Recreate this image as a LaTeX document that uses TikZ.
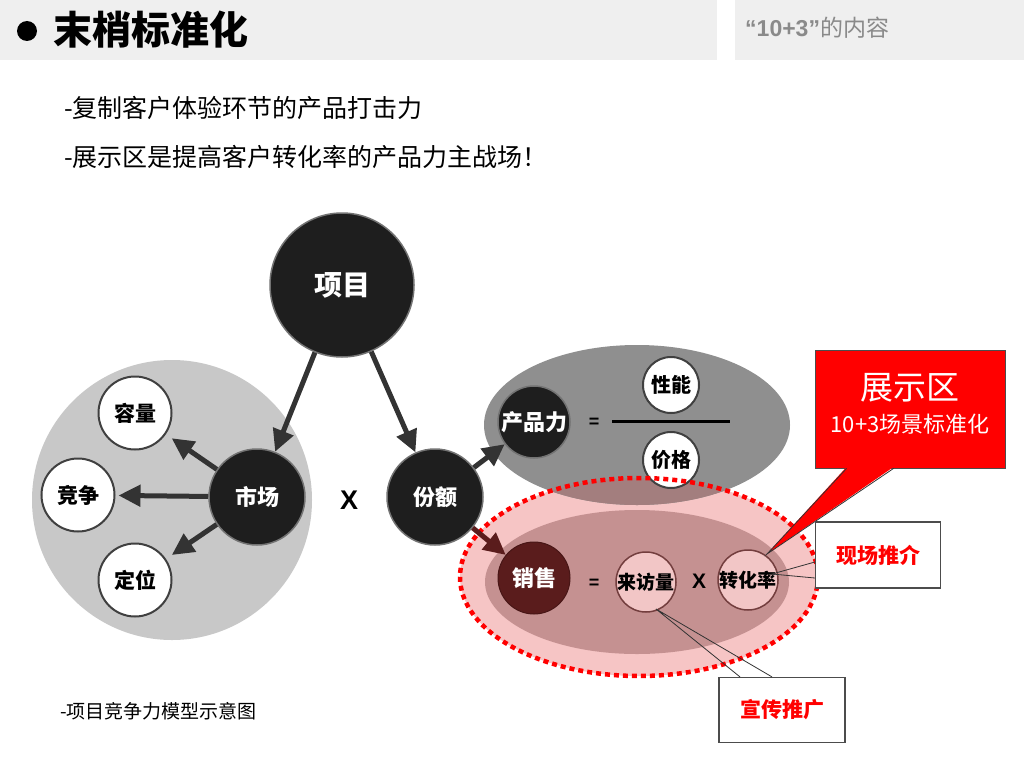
\documentclass[tikz,border=0pt]{standalone}
\usepackage{fontspec}
\setmainfont{Noto Sans CJK SC}
\newfontfamily\latinfont{Liberation Sans}
\usepackage{xcolor}
\usetikzlibrary{arrows.meta,positioning,calc}
\definecolor{barbg}{HTML}{EFEFEF}
\definecolor{hintgray}{HTML}{8A8A8A}
\definecolor{ink}{HTML}{1E1E1E}
\definecolor{ringgray}{HTML}{C8C8C8}
\definecolor{midgray}{HTML}{8F8F8F}
\definecolor{mauve}{HTML}{A37E7E}
\definecolor{palepink}{HTML}{F6C5C5}
\definecolor{duskpink}{HTML}{C59191}
\definecolor{wine}{HTML}{5A1C1C}
\definecolor{blush}{HTML}{F2C6C6}
\definecolor{arrowgray}{HTML}{333333}
\definecolor{alertred}{HTML}{FF0000}
\tikzset{
  txt/.style={inner sep=0pt,anchor=west},
  darkball/.style={circle,fill=ink,draw=black!55,line width=1.5pt,text=white,
                   inner sep=0pt,minimum size=96pt,
                   font=\fontsize{22}{24}\selectfont\bfseries},
  whiteball/.style={circle,fill=white,draw=black!75,line width=2pt,
                    inner sep=0pt,minimum size=73pt,
                    font=\fontsize{21}{24}\selectfont\bfseries},
  wineball/.style={circle,fill=wine,draw=wine!80!black,line width=1pt,text=white,
                   inner sep=0pt,minimum size=72pt,
                   font=\fontsize{22}{24}\selectfont\bfseries},
  blushball/.style={circle,fill=blush,draw=wine!85,line width=1.5pt,
                    inner sep=0pt,minimum size=60pt,
                    font=\fontsize{19}{21}\selectfont\bfseries},
  signtxt/.style={inner sep=0pt,font=\latinfont\fontsize{18}{20}\selectfont\bfseries},
  fatarr/.style={-{Triangle[length=22pt,width=21pt]},line width=5pt,
                 draw=arrowgray},
  winearr/.style={-{Triangle[length=22pt,width=21pt]},line width=5pt,
                  draw=wine},
  reddots/.style={draw=alertred,line width=4.5pt,dash pattern=on 5pt off 4pt},
  notebox/.style={draw=black!70,fill=white,line width=1.2pt,
                  minimum width=125pt,minimum height=66pt,text=alertred,
                  font=\fontsize{21}{24}\selectfont\bfseries},
  thinlead/.style={draw=black!80,line width=0.8pt}
}
\begin{document}
\begin{tikzpicture}[x=1pt,y=-1pt]
  \path[use as bounding box,fill=white] (0,0) rectangle (1024,768);
  % header
  \fill[barbg] (0,0) rectangle (717,60);
  \fill[barbg] (735,0) rectangle (1024,60);
  \fill[black] (27,31) circle (10);
  \node[txt,font=\fontsize{39}{44}\selectfont\bfseries] (title) at (53,30) {末梢标准化};
  \node[txt,text=hintgray,font=\fontsize{23}{26}\selectfont] (subtitle) at (745,28)
    {{\latinfont\bfseries “10+3”}的内容};
  \node[txt,font=\fontsize{25}{28}\selectfont] (lineone) at (64,108)
    {-复制客户体验环节的产品打击力};
  \node[txt,font=\fontsize{25}{28}\selectfont] (linetwo) at (64,157)
    {-展示区是提高客户转化率的产品力主战场！};
  \node[txt,font=\fontsize{19}{22}\selectfont] (caption) at (60,711)
    {-项目竞争力模型示意图};

  % market side
  \fill[ringgray] (172,500) circle (140);
  \node[darkball,minimum size=144pt,font=\fontsize{28}{30}\selectfont\bfseries]
    (xiangmu) at (342,285) {项目};
  \node[darkball] (shichang) at (257,497) {市场};
  \node[whiteball] (rongliang) at (135,413) {容量};
  \node[whiteball] (jingzheng) at (78,495) {竞争};
  \node[whiteball] (dingwei) at (135,580) {定位};
  \node[darkball] (fene) at (435,497) {份额};
  \node[signtxt,font=\latinfont\fontsize{27}{28}\selectfont\bfseries] (timesa)
    at (349,500) {X};
  \draw[fatarr] (xiangmu) -- (shichang);
  \draw[fatarr] (xiangmu) -- (fene);
  \draw[fatarr,shorten >=7pt] (shichang) -- (rongliang);
  \draw[fatarr,shorten >=3pt] (shichang) -- (jingzheng);
  \draw[fatarr,shorten >=7pt] (shichang) -- (dingwei);

  % product and sales side
  \fill[palepink] (639,577) ellipse [x radius=179,y radius=99];
  \fill[midgray] (637,425) ellipse [x radius=153,y radius=80];
  \begin{scope}
    \clip (639,577) ellipse [x radius=179,y radius=99];
    \fill[mauve] (637,425) ellipse [x radius=153,y radius=80];
  \end{scope}
  \fill[duskpink] (637,582) ellipse [x radius=152,y radius=72];
  \node[darkball,minimum size=72pt] (chanpin) at (534,422) {产品力};
  \node[signtxt] (eqa) at (594,423) {=};
  \draw[line width=3pt] (612,421) -- (730,421);
  \node[whiteball,minimum size=56pt,font=\fontsize{20}{22}\selectfont\bfseries]
    (xingneng) at (671,385) {性能};
  \node[whiteball,minimum size=56pt,font=\fontsize{20}{22}\selectfont\bfseries]
    (jiage) at (671,460) {价格};
  \node[wineball] (xiaoshou) at (534,578) {销售};
  \node[signtxt] (eqb) at (594,584) {=};
  \node[blushball] (laifang) at (646,582) {来访量};
  \node[signtxt,font=\latinfont\fontsize{21}{22}\selectfont\bfseries] (timesb)
    at (699,581) {X};
  \node[blushball] (zhuanhua) at (748,580) {转化率};
  \draw[reddots] (639,577) ellipse [x radius=179,y radius=99];
  \draw[fatarr] (fene) -- (chanpin);
  \draw[winearr] (fene) -- (xiaoshou);

  % callouts
  \node[draw=black!70,fill=alertred,line width=0.8pt,minimum width=190pt,
        minimum height=118pt] (zhanshi) at (910,409) {};
  \coordinate (tipred) at ($(zhanshi.center)+(-143,145)$);
  \fill[alertred] ($(zhanshi.south west)+(32,-1.5)$) -- (tipred)
    -- ($(zhanshi.south west)+(79,-1.5)$) -- cycle;
  \draw[thinlead] ($(zhanshi.south west)+(32,0)$) -- (tipred)
    -- ($(zhanshi.south west)+(79,0)$);
  \node[text=white,inner sep=0pt,font=\fontsize{33}{36}\selectfont]
    (zhanshitop) at (910,388) {展示区};
  \node[text=white,inner sep=0pt,font=\fontsize{22}{24}\selectfont]
    (zhanshisub) at (910,424) {10+3场景标准化};

  \node[notebox] (xianchang) at (878,555) {现场推介};
  \coordinate (tipsite) at ($(zhuanhua.center)+(24,-6)$);
  \draw[thinlead] ($(xianchang.west)+(0,7)$) -- (tipsite)
    -- ($(xianchang.west)+(0,23)$);
  \node[notebox,minimum width=126pt,minimum height=65pt] (xuanchuan) at (782,710)
    {宣传推广};
  \coordinate (tippromo) at ($(laifang.center)+(10,27)$);
  \draw[thinlead] ($(xuanchuan.north)+(-42,0)$) -- (tippromo)
    -- ($(xuanchuan.north)+(-10,0)$);
\end{tikzpicture}
\end{document}
